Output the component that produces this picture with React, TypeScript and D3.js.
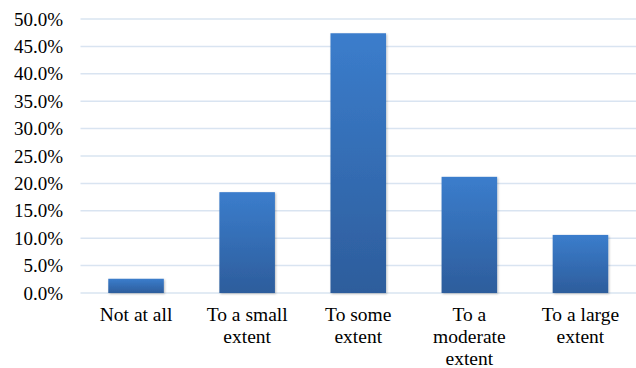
import React, { useEffect, useRef } from 'react';
import * as d3 from 'd3';

const categories = ['Not at all', 'To a small extent', 'To some extent', 'To a moderate extent', 'To a large extent'];
const values = [0.026, 0.184, 0.474, 0.212, 0.106];
const yTicks = [0, 0.05, 0.1, 0.15, 0.2, 0.25, 0.3, 0.35, 0.4, 0.45, 0.5];

const width = 636;
const height = 368;
const margin = { top: 19, right: 0, bottom: 75, left: 80.5 };

const App = () => {
  const svgRef = useRef<SVGSVGElement | null>(null);

  useEffect(() => {
    const svg = d3.select(svgRef.current);
    svg.selectAll('*').remove();

    const x = d3.scaleBand()
      .domain(categories)
      .range([margin.left, width - margin.right])
      .paddingInner(0.5)
      .paddingOuter(0.25);

    const y = d3.scaleLinear()
      .domain([0, 0.5])
      .range([height - margin.bottom, margin.top]);

    const defs = svg.append('defs');
    const grad = defs.append('linearGradient')
      .attr('id', 'barGrad')
      .attr('x1', 0).attr('y1', 0).attr('x2', 0).attr('y2', 1);
    grad.append('stop').attr('offset', '0%').attr('stop-color', '#3b7dcc');
    grad.append('stop').attr('offset', '100%').attr('stop-color', '#2d5d9c');

    const filter = defs.append('filter').attr('id', 'shadow')
      .attr('x', '-10%').attr('y', '-10%').attr('width', '130%').attr('height', '130%');
    filter.append('feDropShadow')
      .attr('dx', 1).attr('dy', 1).attr('stdDeviation', 1)
      .attr('flood-color', '#000').attr('flood-opacity', 0.25);

    // gridlines
    svg.append('g')
      .selectAll('line')
      .data(yTicks)
      .enter()
      .append('line')
      .attr('x1', margin.left)
      .attr('x2', width - margin.right)
      .attr('y1', d => y(d))
      .attr('y2', d => y(d))
      .attr('stroke', '#d9e4f1')
      .attr('stroke-width', 1.5);

    // tick labels
    svg.append('g')
      .selectAll('text')
      .data(yTicks)
      .enter()
      .append('text')
      .attr('x', 63)
      .attr('y', d => y(d))
      .attr('dy', '0.35em')
      .attr('text-anchor', 'end')
      .style('font-family', '"Liberation Serif", "Times New Roman", serif')
      .style('font-size', '19px')
      .attr('fill', '#000')
      .text(d => d3.format('.1%')(d));

    // bars
    svg.append('g')
      .selectAll('rect')
      .data(values)
      .enter()
      .append('rect')
      .attr('x', (d, i) => x(categories[i]) as number)
      .attr('y', d => y(d))
      .attr('width', x.bandwidth())
      .attr('height', d => y(0) - y(d))
      .attr('fill', 'url(#barGrad)')
      .attr('filter', 'url(#shadow)');

    // category labels with wrapping
    const labels = svg.append('g')
      .selectAll('text')
      .data(categories)
      .enter()
      .append('text')
      .attr('x', d => (x(d) as number) + x.bandwidth() / 2)
      .attr('y', 321)
      .attr('text-anchor', 'middle')
      .style('font-family', '"Liberation Serif", "Times New Roman", serif')
      .style('font-size', '19.5px')
      .attr('fill', '#000');

    labels.each(function (d) {
      const text = d3.select(this);
      const words = d.split(' ');
      const cx = text.attr('x');
      let line: string[] = [];
      let tspan = text.append('tspan').attr('x', cx).attr('dy', 0);
      words.forEach(w => {
        line.push(w);
        tspan.text(line.join(' '));
        const node = tspan.node() as SVGTSpanElement;
        if (line.length > 1 && node.getComputedTextLength() > 100) {
          line.pop();
          tspan.text(line.join(' '));
          line = [w];
          tspan = text.append('tspan').attr('x', cx).attr('dy', '22px').text(w);
        }
      });
    });
  }, []);

  return (
    <div style={{ position: 'absolute', left: 0, top: 0, width, height, background: '#fff' }}>
      <svg ref={svgRef} width={width} height={height} />
    </div>
  );
};

export default App;
